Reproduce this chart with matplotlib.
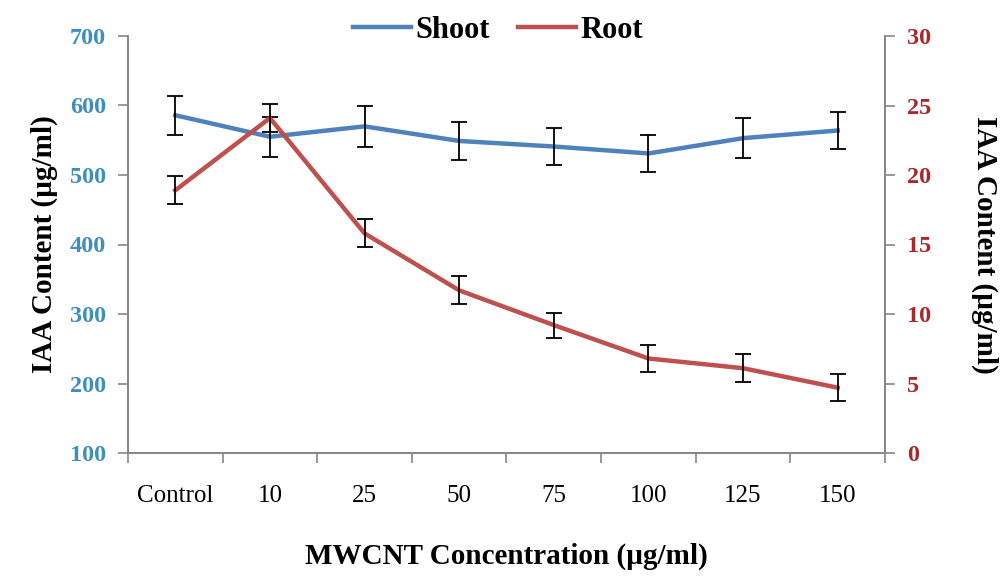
import numpy as np
import matplotlib
matplotlib.use("Agg")
import matplotlib.pyplot as plt

categories = ["Control", "10", "25", "50", "75", "100", "125", "150"]
shoot = [586, 555, 570, 549, 541, 531, 553, 564]
shoot_err = [28, 29, 29, 27, 27, 26, 29, 27]
root = [18.9, 24.1, 15.8, 11.7, 9.2, 6.8, 6.1, 4.7]
root_err = [1.0, 1.0, 1.0, 1.0, 0.9, 1.0, 1.0, 0.95]

plt.rcParams['font.family'] = ['Liberation Serif', 'DejaVu Serif']

blue = "#4F81BD"
red = "#C0504D"
gray = "#868686"

fig = plt.figure(figsize=(10.02, 5.79), dpi=100)
ax = fig.add_axes([128/1002, 1-453/579, (885-128)/1002, (453-36)/579])
ax2 = ax.twinx()

x = np.arange(len(categories))

l1, = ax.plot(x, shoot, color=blue, lw=3.2, label="Shoot", zorder=3)
ax.errorbar(x, shoot, yerr=shoot_err, fmt="none", ecolor="black",
            elinewidth=1.3, capsize=5.5, capthick=1.3, zorder=4)
l2, = ax2.plot(x, root, color=red, lw=3.2, label="Root", zorder=3)
ax2.errorbar(x, root, yerr=root_err, fmt="none", ecolor="black",
             elinewidth=1.3, capsize=5.5, capthick=1.3, zorder=4)

ax.set_xlim(-0.5, len(categories) - 0.5)
ax.set_ylim(100, 700)
ax.set_yticks(range(100, 701, 100))
ax2.set_ylim(0, 30)
ax2.set_yticks(range(0, 31, 5))

# category boundaries as ticks, labels centred between them
ax.set_xticks(np.arange(-0.5, len(categories), 1))
ax.set_xticklabels([])
ax.set_xticks(x, minor=True)
ax.set_xticklabels(categories, minor=True, fontsize=18)
ax.tick_params(axis="x", which="major", direction="out", length=7, color=gray, width=1.2)
ax.tick_params(axis="x", which="minor", length=0, pad=23)

ax.tick_params(axis="y", direction="out", length=7, color=gray, width=1.2,
               labelsize=17.5, labelcolor="#3D8FBF", pad=9)
ax2.tick_params(axis="y", direction="out", length=7, color=gray, width=1.2,
                labelsize=17.5, labelcolor="#A8282C", pad=9)
for lab in ax.get_yticklabels() + ax2.get_yticklabels():
    lab.set_fontweight("bold")

for a in (ax, ax2):
    a.spines["top"].set_visible(False)
    for s in ("left", "right", "bottom"):
        a.spines[s].set_color(gray)
        a.spines[s].set_linewidth(1.2)

ax.set_ylabel("IAA Content (µg/ml)", fontsize=21, fontweight="bold", labelpad=8)
ax2.set_ylabel("IAA Content (µg/ml)", fontsize=21, fontweight="bold",
               rotation=270, labelpad=48)
ax.set_xlabel("MWCNT Concentration (µg/ml)", fontsize=21, fontweight="bold", labelpad=26)

fig.legend(handles=[l1, l2], loc="upper center", bbox_to_anchor=(0.497, 1.02),
           ncol=2, frameon=False, handlelength=1.9,
           handletextpad=0.15, columnspacing=0.9, prop={"weight": "bold", "size": 22})

fig.savefig("out.png", dpi=100)
